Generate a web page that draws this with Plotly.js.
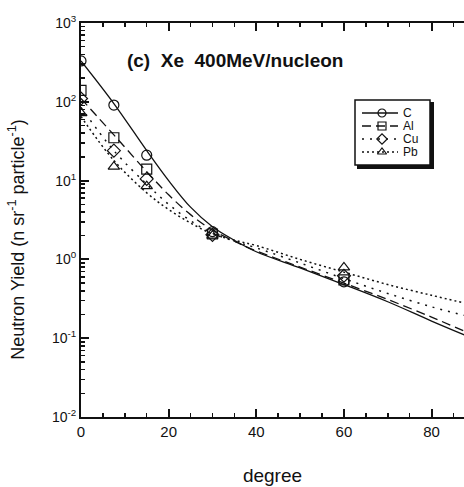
<!DOCTYPE html>
<html><head><meta charset="utf-8">
<script src="https://cdn.plot.ly/plotly-3.0.1.min.js"></script>
<style>html,body{margin:0;padding:0;background:#fff}#plot{width:464px;height:487px}</style>
</head><body><div id="plot"></div>
<script>
// measured data points (degree vs neutron yield)
var angles = [0, 7.5, 15, 30, 60];
var yieldC  = [330, 91, 21, 2.25, 0.52];
var yieldAl = [140, 35, 14, 2.1, 0.55];
var yieldCu = [110, 24, 10.5, 2.05, 0.62];
var yieldPb = [72, 15, 8.5, 2.0, 0.79];

// fitted curves
var curveX  = [0, 7.5, 15, 20, 25, 30, 35, 40, 50, 60, 70, 80, 87.5];
var curveC  = [330, 95, 24, 10, 4.6, 2.6, 1.75, 1.25, 0.78, 0.48, 0.29, 0.165, 0.11];
var curveAl = [110, 38, 13, 6.6, 3.7, 2.35, 1.7, 1.28, 0.8, 0.5, 0.31, 0.185, 0.123];
var curveCu = [85, 24, 9, 5, 3.1, 2.15, 1.7, 1.4, 0.9, 0.57, 0.37, 0.25, 0.195];
var curvePb = [65, 18, 7, 4.3, 2.9, 2.1, 1.75, 1.5, 1.0, 0.69, 0.48, 0.35, 0.28];

var names = ['C', 'Al', 'Cu', 'Pb'];
var yTickVals = [0.01, 0.1, 1, 10, 100, 1000];
var yTickText = ['10<sup>-2</sup>', '10<sup>-1</sup>', '10<sup>0</sup>', '10<sup>1</sup>', '10<sup>2</sup>', '10<sup>3</sup>'];
var xTickVals = [0, 20, 40, 60, 80];

var points = [yieldC, yieldAl, yieldCu, yieldPb];
var curves = [curveC, curveAl, curveCu, curvePb];
var symbols = ['circle-open', 'square-open', 'diamond-open', 'triangle-up-open'];
var dashes = ['solid', '9px,5px', '2px,6px', '2px,3px'];
var widths = [1.3, 1.3, 1.5, 1.5];

// legend layout (pixel positions on an overlay axis)
var legRowY = [113, 126, 139, 152];
var legX0 = 362, legX1 = 398, legMarkX = 382, legTextX = 402;
function px(v) { return (v - 81) / 383; }
function py(v) { return (417 - v) / 394; }

var traces = [];
var annotations = [];
for (var i = 0; i < 4; i++) {
  traces.push({x: curveX, y: curves[i], mode: 'lines', line: {shape: 'spline', color: '#111', width: widths[i], dash: dashes[i]}, showlegend: false, hoverinfo: 'skip'});
  traces.push({x: angles, y: points[i], mode: 'markers', marker: {symbol: symbols[i], size: 10, color: '#111', line: {width: 1.2, color: '#111'}}, showlegend: false});
  // legend sample
  traces.push({x: [legX0, legX1], y: [legRowY[i], legRowY[i]], xaxis: 'x2', yaxis: 'y2', mode: 'lines', line: {color: '#111', width: widths[i], dash: dashes[i]}, showlegend: false, hoverinfo: 'skip'});
  traces.push({x: [legMarkX], y: [legRowY[i]], xaxis: 'x2', yaxis: 'y2', mode: 'markers', marker: {symbol: symbols[i], size: 8, color: '#111', line: {width: 1.2, color: '#111'}}, showlegend: false, hoverinfo: 'skip'});
  annotations.push({xref: 'x2', yref: 'y2', x: legTextX, y: legRowY[i], text: names[i], showarrow: false, xanchor: 'left', yanchor: 'middle', font: {size: 12}, borderpad: 0});
}

annotations.push({xref: 'paper', yref: 'paper', x: -0.167, y: 0.45, text: 'Neutron Yield (n sr<sup>-1</sup> particle<sup>-1</sup>)', textangle: -90, showarrow: false, xanchor: 'center', yanchor: 'middle', font: {size: 18}});

var yMinor = [];
for (var d = -2; d < 3; d++) for (var k = 2; k <= 9; k++) yMinor.push(k * Math.pow(10, d));

var layout = {
  width: 464, height: 487,
  margin: {l: 81, r: 0, t: 23, b: 70},
  paper_bgcolor: '#fff', plot_bgcolor: 'rgba(0,0,0,0)',
  font: {family: 'Liberation Sans, Arial, sans-serif', color: '#111', size: 13},
  showlegend: false,
  title: {text: '<b>(c)  Xe  400MeV/nucleon</b>', font: {size: 19, family: 'Liberation Sans, Arial, sans-serif'}, xref: 'paper', yref: 'paper', x: 0.12, xanchor: 'left', y: 0.905, yanchor: 'middle'},
  xaxis: {range: [0, 87.4], tickvals: xTickVals, ticks: 'inside', ticklen: 8, tickwidth: 2, tickcolor: '#111',
    showline: true, linewidth: 2, linecolor: '#111', mirror: 'allticks', showgrid: false, zeroline: false,
    minor: {tickvals: [5,10,15,25,30,35,45,50,55,65,70,75,85], ticks: 'inside', ticklen: 4, tickwidth: 1.5, tickcolor: '#111', showgrid: false},
    tickfont: {size: 15}, title: {text: 'degree', font: {size: 19}, standoff: 30}},
  yaxis: {type: 'log', range: [-2, 3], tickvals: yTickVals, ticktext: yTickText, ticks: 'inside', ticklen: 8, tickwidth: 2, tickcolor: '#111',
    showline: true, linewidth: 2, linecolor: '#111', mirror: false, showgrid: false, zeroline: false,
    minor: {tickvals: yMinor, ticks: 'inside', ticklen: 4, tickwidth: 1.5, tickcolor: '#111', showgrid: false},
    tickfont: {size: 14}},
  xaxis2: {overlaying: 'x', range: [81, 464], visible: false, fixedrange: true},
  yaxis2: {overlaying: 'y', range: [417, 23], visible: false, fixedrange: true},
  shapes: [
    {type: 'rect', xref: 'paper', yref: 'paper', x0: px(357), x1: px(434), y0: py(102), y1: py(169), fillcolor: '#111', line: {width: 0}, layer: 'below'},
    {type: 'rect', xref: 'paper', yref: 'paper', x0: px(355), x1: px(430), y0: py(100), y1: py(165), fillcolor: '#fff', line: {width: 1.5, color: '#111'}, layer: 'below'}
  ],
  annotations: annotations
};
Plotly.newPlot('plot', traces, layout, {displayModeBar: false, staticPlot: true});
</script></body></html>
